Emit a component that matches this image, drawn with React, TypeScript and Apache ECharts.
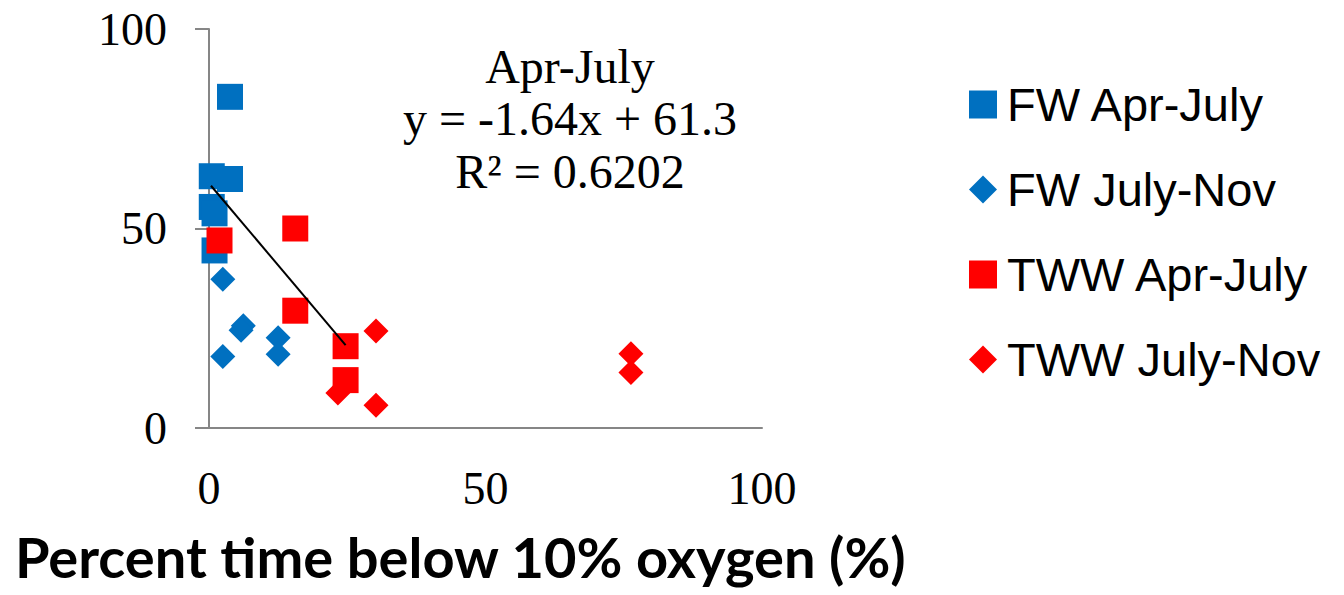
import React, { useEffect, useRef } from "react";
import * as echarts from "echarts";

const fwAprJuly: [number, number][] = [
  [3.8, 83], [0.5, 63.1], [3.8, 62.4], [0.5, 55.4], [1.0, 53.8], [1.0, 44.5],
];
const fwJulyNov: [number, number][] = [
  [2.5, 37.3], [6.2, 25.6], [5.8, 24.5], [12.5, 22.6], [12.5, 18.5], [2.5, 17.9],
];
const twwAprJuly: [number, number][] = [
  [1.9, 47.0], [15.6, 50.0], [15.6, 29.4], [24.7, 20.5], [24.7, 12.0],
];
const twwJulyNov: [number, number][] = [
  [30.2, 24.3], [23.3, 8.8], [30.2, 5.7], [76.3, 18.6], [76.3, 13.9],
];
const trendSlope = -1.64;
const trendIntercept = 61.3;
const trendX: number[] = [0.36, 24.7];
const annotationLines = ["Apr-July", "y = -1.64x + 61.3", "R² = 0.6202"];
const xTicks = [0, 50, 100];
const yTicks = [0, 50, 100];
const axisTitle = "Percent time below 10% oxygen (%)";

const BLUE = "#0070C0";
const RED = "#FF0000";
const SERIF = "'Liberation Serif', 'Times New Roman', serif";
const SANS = "'Liberation Sans', Arial, sans-serif";

export default function App() {
  const ref = useRef<HTMLDivElement>(null);
  useEffect(() => {
    if (!ref.current) return;
    const chart = echarts.init(ref.current, null, { renderer: "svg" });
    const trendData = trendX.map((x) => [x, trendSlope * x + trendIntercept]);
    chart.setOption({
      animation: false,
      backgroundColor: "#ffffff",
      grid: { left: 209, top: 29, width: 553, height: 399 },
      xAxis: {
        type: "value",
        min: xTicks[0],
        max: xTicks[xTicks.length - 1],
        interval: 50,
        splitLine: { show: false },
        axisLine: { show: true, onZero: false, lineStyle: { color: "#868686", width: 2 } },
        axisTick: { show: false },
        axisLabel: { fontFamily: SERIF, fontSize: 46, color: "#000", margin: 37 },
      },
      yAxis: {
        type: "value",
        min: yTicks[0],
        max: yTicks[yTicks.length - 1],
        interval: 50,
        splitLine: { show: false },
        axisLine: { show: true, lineStyle: { color: "#868686", width: 2 } },
        axisTick: { show: true, inside: false, length: 14, lineStyle: { color: "#868686", width: 2 } },
        axisLabel: { fontFamily: SERIF, fontSize: 46, color: "#000", margin: 42 },
      },
      legend: {
        orient: "vertical",
        left: 964,
        top: 76,
        itemWidth: 28,
        itemHeight: 28,
        itemGap: 38,
        textStyle: { fontFamily: SANS, fontSize: 47, color: "#000", lineHeight: 46, padding: [0, 0, 0, 5] },
        data: [
          { name: "FW Apr-July", icon: "rect" },
          { name: "FW July-Nov", icon: "diamond" },
          { name: "TWW Apr-July", icon: "rect" },
          { name: "TWW July-Nov", icon: "diamond" },
        ],
      },
      graphic: [
        {
          type: "text",
          left: 15,
          top: 528,
          style: { text: axisTitle, fontFamily: "Lato, 'Open Sans', sans-serif", fontWeight: "bold", fontSize: 56, lineHeight: 50, fill: "#000" },
        },
        ...annotationLines.map((t, i) => ({
          type: "text",
          x: 570,
          y: 66 + i * 52.5,
          style: { text: t, fontFamily: SERIF, fontSize: 48, fill: "#000", textAlign: "center", textVerticalAlign: "middle" },
        })),
      ],
      series: [
        {
          name: "FW Apr-July",
          type: "scatter",
          symbol: "rect",
          symbolSize: 26,
          itemStyle: { color: BLUE, opacity: 1 },
          data: fwAprJuly,
          z: 3,
        },
        {
          name: "FW July-Nov",
          type: "scatter",
          symbol: "diamond",
          symbolSize: 25,
          itemStyle: { color: BLUE, opacity: 1 },
          data: fwJulyNov,
          z: 3,
        },
        {
          name: "TWW Apr-July",
          type: "scatter",
          symbol: "rect",
          symbolSize: 26,
          itemStyle: { color: RED, opacity: 1 },
          data: twwAprJuly,
          z: 3,
        },
        {
          name: "TWW July-Nov",
          type: "scatter",
          symbol: "diamond",
          symbolSize: 25,
          itemStyle: { color: RED, opacity: 1 },
          data: twwJulyNov,
          z: 3,
        },
        {
          name: "trend",
          type: "line",
          data: trendData,
          symbol: "none",
          lineStyle: { color: "#000", width: 2 },
          z: 5,
          silent: true,
        },
      ],
    });
    return () => chart.dispose();
  }, []);
  return <div ref={ref} style={{ position: "fixed", left: 0, top: 0, width: 1344, height: 595 }} />;
}
